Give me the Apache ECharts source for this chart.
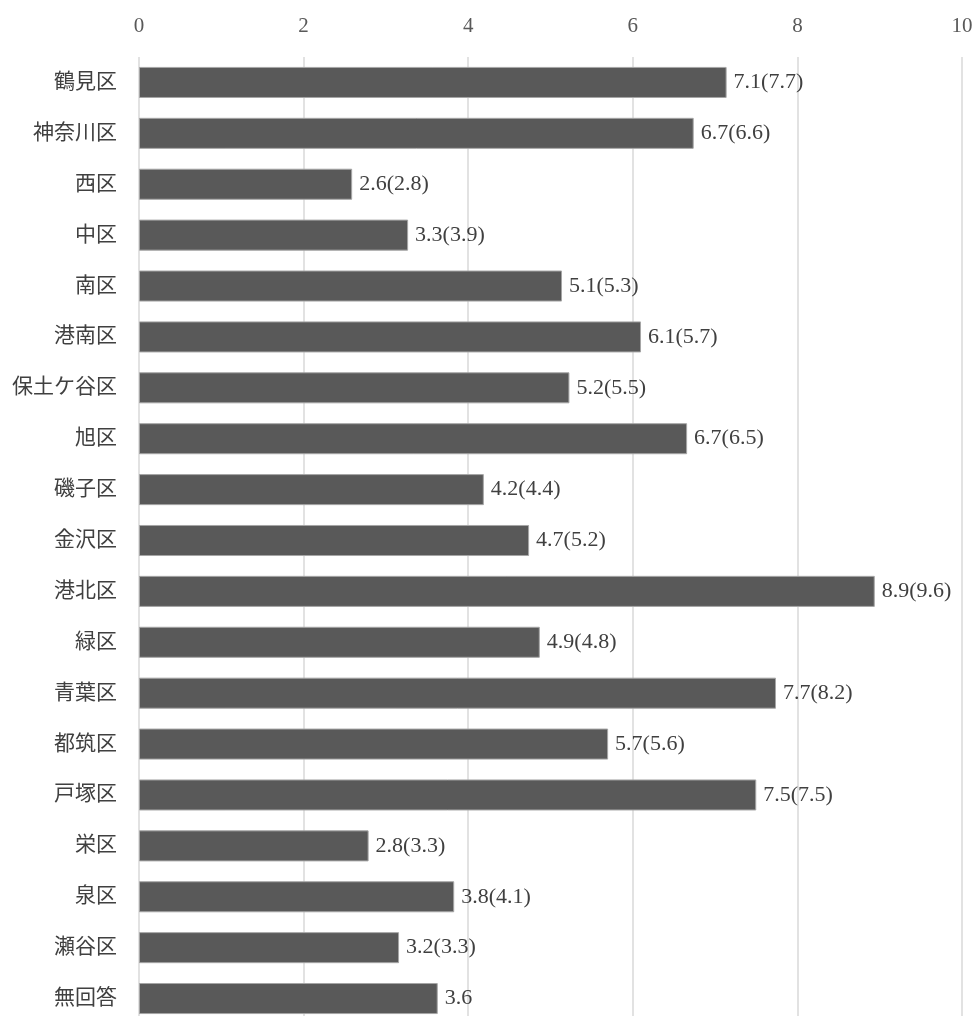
<!DOCTYPE html>
<html>
<head>
<meta charset="utf-8">
<script src="https://cdn.jsdelivr.net/npm/echarts@6/dist/echarts.min.js"></script>
<style>html,body{margin:0;padding:0;background:#fff;}#c{width:976px;height:1016px;}</style>
</head>
<body>
<div id="c"></div>
<script>
const categories = ['鶴見区','神奈川区','西区','中区','南区','港南区','保土ケ谷区','旭区','磯子区','金沢区','港北区','緑区','青葉区','都筑区','戸塚区','栄区','泉区','瀬谷区','無回答'];
const values = [7.14,6.74,2.59,3.27,5.14,6.10,5.23,6.66,4.19,4.74,8.94,4.87,7.74,5.70,7.50,2.79,3.83,3.16,3.63];
const previous = [7.7,6.6,2.8,3.9,5.3,5.7,5.5,6.5,4.4,5.2,9.6,4.8,8.2,5.6,7.5,3.3,4.1,3.3,null];
const xTicks = [0,2,4,6,8,10];

const serif = "'Liberation Serif','Noto Sans CJK JP',serif";
const chart = echarts.init(document.getElementById('c'));
chart.setOption({
  animation: false,
  grid: {left: 139, right: 14, top: 57, height: 967, containLabel: false, outerBoundsMode: 'none'},
  xAxis: {
    type: 'value', position: 'top', min: xTicks[0], max: xTicks[xTicks.length-1], interval: 2,
    axisLine: {show: false}, axisTick: {show: false},
    axisLabel: {margin: 20, fontSize: 21, color: '#595959', fontFamily: serif},
    splitLine: {show: true, lineStyle: {color: '#d9d9d9', width: 1.5}}
  },
  yAxis: {
    type: 'category', inverse: true, data: categories,
    axisLine: {show: false}, axisTick: {show: false},
    axisLabel: {margin: 22, fontSize: 21, color: '#404040', fontFamily: serif}
  },
  series: [{
    type: 'bar',
    data: values,
    barCategoryGap: '39%',
    itemStyle: {color: '#595959', borderColor: '#a6a6a6', borderWidth: 1},
    label: {
      show: true, position: 'right', distance: 7, fontSize: 22, color: '#404040', fontFamily: serif,
      formatter: p => {
        const cur = p.value.toFixed(1);
        const prev = previous[p.dataIndex];
        return prev == null ? cur : cur + '(' + prev.toFixed(1) + ')';
      }
    }
  }]
});
</script>
</body>
</html>
